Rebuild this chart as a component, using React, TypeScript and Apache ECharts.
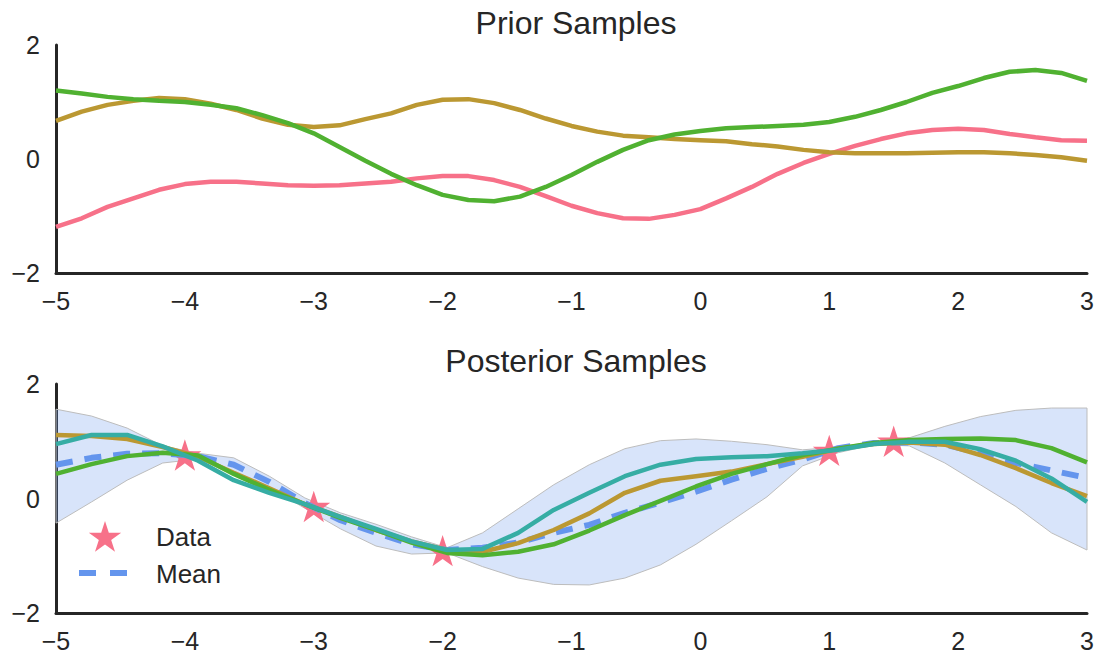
import React, { useEffect, useRef } from "react";
import * as echarts from "echarts";

// ---------- data ----------
const priorX = [-5, -4.8, -4.6, -4.4, -4.2, -4, -3.8, -3.6, -3.4, -3.2, -3, -2.8, -2.6, -2.4, -2.2, -2, -1.8, -1.6, -1.4, -1.2, -1, -0.8, -0.6, -0.4, -0.2, 0, 0.2, 0.4, 0.6, 0.8, 1, 1.2, 1.4, 1.6, 1.8, 2, 2.2, 2.4, 2.6, 2.8, 3];
const priorPink = [-1.19, -1.04, -0.84, -0.69, -0.54, -0.44, -0.4, -0.4, -0.43, -0.46, -0.47, -0.46, -0.43, -0.4, -0.34, -0.3, -0.3, -0.37, -0.49, -0.65, -0.82, -0.95, -1.04, -1.05, -0.98, -0.88, -0.69, -0.49, -0.26, -0.07, 0.09, 0.23, 0.35, 0.45, 0.51, 0.53, 0.51, 0.44, 0.38, 0.33, 0.32];
const priorGold = [0.67, 0.83, 0.95, 1.02, 1.07, 1.05, 0.97, 0.86, 0.71, 0.6, 0.56, 0.59, 0.7, 0.8, 0.95, 1.04, 1.05, 0.98, 0.86, 0.71, 0.58, 0.48, 0.41, 0.38, 0.35, 0.33, 0.31, 0.26, 0.22, 0.16, 0.12, 0.1, 0.1, 0.1, 0.11, 0.12, 0.12, 0.1, 0.07, 0.03, -0.03];
const priorGreen = [1.2, 1.15, 1.09, 1.05, 1.02, 1.0, 0.95, 0.89, 0.77, 0.63, 0.45, 0.21, -0.03, -0.26, -0.46, -0.63, -0.72, -0.74, -0.66, -0.49, -0.28, -0.05, 0.16, 0.33, 0.43, 0.49, 0.54, 0.56, 0.58, 0.6, 0.65, 0.74, 0.86, 1.0, 1.16, 1.28, 1.42, 1.53, 1.56, 1.51, 1.37];

const postX = [-5, -4.724, -4.448, -4.172, -3.897, -3.621, -3.345, -3.069, -2.793, -2.517, -2.241, -1.966, -1.69, -1.414, -1.138, -0.862, -0.586, -0.31, -0.034, 0.241, 0.517, 0.793, 1.069, 1.345, 1.621, 1.897, 2.172, 2.448, 2.724, 3];
const postMean = [0.59, 0.71, 0.78, 0.79, 0.74, 0.59, 0.29, -0.08, -0.38, -0.6, -0.8, -0.9, -0.86, -0.77, -0.6, -0.46, -0.25, -0.07, 0.12, 0.33, 0.52, 0.68, 0.88, 0.97, 0.98, 0.94, 0.79, 0.62, 0.49, 0.36];
const postUpper = [1.56, 1.44, 1.23, 0.92, 0.79, 0.71, 0.39, 0.01, -0.25, -0.45, -0.67, -0.86, -0.6, -0.18, 0.24, 0.59, 0.87, 1.01, 1.04, 1.0, 0.94, 0.85, 0.9, 0.99, 1.06, 1.26, 1.43, 1.54, 1.58, 1.58];
const postLower = [-0.43, -0.06, 0.32, 0.62, 0.69, 0.47, 0.19, -0.17, -0.53, -0.83, -0.97, -0.95, -1.19, -1.39, -1.5, -1.51, -1.39, -1.16, -0.8, -0.39, 0.03, 0.57, 0.8, 0.94, 0.92, 0.62, 0.24, -0.14, -0.6, -0.9];
const postGold = [1.11, 1.09, 1.04, 0.9, 0.73, 0.45, 0.18, -0.1, -0.32, -0.55, -0.75, -0.9, -0.93, -0.78, -0.55, -0.26, 0.1, 0.31, 0.39, 0.47, 0.6, 0.73, 0.87, 0.95, 0.98, 0.94, 0.76, 0.53, 0.27, 0.04];
const postGreen = [0.43, 0.6, 0.74, 0.8, 0.75, 0.43, 0.15, -0.1, -0.34, -0.55, -0.77, -0.95, -0.99, -0.93, -0.8, -0.56, -0.29, -0.04, 0.21, 0.43, 0.6, 0.76, 0.87, 0.97, 1.02, 1.04, 1.05, 1.02, 0.88, 0.63];
const postTeal = [0.95, 1.11, 1.11, 0.91, 0.66, 0.32, 0.1, -0.1, -0.32, -0.53, -0.75, -0.9, -0.88, -0.6, -0.2, 0.1, 0.39, 0.59, 0.69, 0.72, 0.74, 0.79, 0.85, 0.95, 0.99, 0.99, 0.86, 0.66, 0.35, -0.06];

const dataX = [-4, -3, -2, 1, 1.5];
const dataY = [0.76, -0.14, -0.91, 0.84, 1.0];

const xTicks = { min: -5, max: 3, interval: 1 };
const yTicks = { min: -2, max: 2, interval: 2 };

// ---------- styling ----------
const PINK = "#f77189";
const GOLD = "#bb9832";
const GREEN = "#50b131";
const TEAL = "#36ada4";
const BLUE = "#6495ed";
const INK = "#262626";
const FONT = "Liberation Sans";

function starPoints(cx: number, cy: number, r: number): number[][] {
  const pts: number[][] = [];
  const inner = r * 0.382;
  for (let k = 0; k < 10; k++) {
    const rad = k % 2 === 0 ? r : inner;
    const a = -Math.PI / 2 + (k * Math.PI) / 5;
    pts.push([cx + rad * Math.cos(a), cy + rad * Math.sin(a)]);
  }
  return pts;
}
const starPath =
  "path://" +
  starPoints(0, 0, 100)
    .map((p, i) => (i === 0 ? "M" : "L") + p[0].toFixed(2) + "," + p[1].toFixed(2))
    .join(" ") +
  " Z";

const zip = (xs: number[], ys: number[]) => xs.map((x, i) => [x, ys[i]]);
const fmt = (v: number) => (v < 0 ? "\u2212" + Math.abs(v) : String(v));

function makeX(gridIndex: number) {
  return {
    type: "value",
    gridIndex,
    min: xTicks.min,
    max: xTicks.max,
    interval: xTicks.interval,
    axisLine: { show: true, onZero: false, lineStyle: { color: INK, width: 3 } },
    axisTick: { show: false },
    splitLine: { show: false },
    axisLabel: { fontSize: 25, fontFamily: FONT, color: INK, margin: 15, formatter: fmt },
  };
}
function makeY(gridIndex: number) {
  return {
    type: "value",
    gridIndex,
    min: yTicks.min,
    max: yTicks.max,
    interval: yTicks.interval,
    axisLine: { show: true, onZero: false, lineStyle: { color: INK, width: 3 } },
    axisTick: { show: false },
    splitLine: { show: false },
    axisLabel: { fontSize: 25, fontFamily: FONT, color: INK, margin: 16, formatter: fmt },
  };
}

function line(name: string, xs: number[], ys: number[], color: string, idx: number, z: number) {
  return {
    type: "line",
    name,
    xAxisIndex: idx,
    yAxisIndex: idx,
    data: zip(xs, ys),
    showSymbol: false,
    symbol: "none",
    lineStyle: { color, width: 4.5 },
    itemStyle: { color },
    z,
    silent: true,
  };
}

export default function App() {
  const ref = useRef<HTMLDivElement>(null);
  useEffect(() => {
    if (!ref.current) return;
    const chart = echarts.init(ref.current, undefined, { renderer: "svg" });
    const option: any = {
      animation: false,
      backgroundColor: "#ffffff",
      title: [
        {
          text: "Prior Samples",
          left: 571,
          top: 2,
          textAlign: "center",
          textStyle: { fontSize: 32, fontWeight: "normal", fontFamily: FONT, color: INK },
        },
        {
          text: "Posterior Samples",
          left: 571,
          top: 340,
          textAlign: "center",
          textStyle: { fontSize: 32, fontWeight: "normal", fontFamily: FONT, color: INK },
        },
      ],
      grid: [
        { left: 56, right: 10, top: 45, height: 228, containLabel: false },
        { left: 56, right: 10, top: 384, height: 229, containLabel: false },
      ],
      xAxis: [makeX(0), makeX(1)],
      yAxis: [makeY(0), makeY(1)],
      series: [
        line("prior1", priorX, priorPink, PINK, 0, 2),
        line("prior2", priorX, priorGold, GOLD, 0, 3),
        line("prior3", priorX, priorGreen, GREEN, 0, 4),
        {
          type: "custom",
          name: "band",
          xAxisIndex: 1,
          yAxisIndex: 1,
          data: [[postX[0], postMean[0]]],
          silent: true,
          z: 1,
          renderItem: (params: any, api: any) => {
            const pts: number[][] = [];
            for (let i = 0; i < postX.length; i++) pts.push(api.coord([postX[i], postUpper[i]]));
            for (let i = postX.length - 1; i >= 0; i--) pts.push(api.coord([postX[i], postLower[i]]));
            return {
              type: "polygon",
              shape: { points: pts },
              style: { fill: "rgba(100,149,237,0.25)", stroke: "#bdbdbd", lineWidth: 1 },
            };
          },
        },
        {
          type: "scatter",
          name: "Data",
          xAxisIndex: 1,
          yAxisIndex: 1,
          data: zip(dataX, dataY),
          symbol: starPath,
          symbolSize: 33,
          symbolKeepAspect: true,
          itemStyle: { color: PINK, opacity: 1 },
          z: 2,
          silent: true,
        },
        {
          type: "line",
          name: "Mean",
          xAxisIndex: 1,
          yAxisIndex: 1,
          data: zip(postX, postMean),
          showSymbol: false,
          symbol: "none",
          lineStyle: { color: BLUE, width: 6, type: [17, 12] },
          z: 3,
          silent: true,
        },
        line("post1", postX, postGold, GOLD, 1, 4),
        line("post2", postX, postGreen, GREEN, 1, 5),
        line("post3", postX, postTeal, TEAL, 1, 6),
      ],
      graphic: [
        {
          type: "polygon",
          shape: { points: starPoints(105, 538, 17) },
          style: { fill: PINK },
          z: 100,
        },
        {
          type: "text",
          x: 156,
          y: 537,
          style: { text: "Data", fontSize: 26, fontFamily: FONT, fill: INK, verticalAlign: "middle" },
          z: 100,
        },
        {
          type: "line",
          shape: { x1: 79, y1: 573, x2: 128, y2: 573 },
          style: { stroke: BLUE, lineWidth: 6, lineDash: [17, 14] },
          z: 100,
        },
        {
          type: "text",
          x: 156,
          y: 574,
          style: { text: "Mean", fontSize: 26, fontFamily: FONT, fill: INK, verticalAlign: "middle" },
          z: 100,
        },
      ],
    };
    chart.setOption(option);
    return () => chart.dispose();
  }, []);
  return (
    <div
      ref={ref}
      style={{ position: "fixed", left: 0, top: 0, width: 1097, height: 653, background: "#fff" }}
    />
  );
}
